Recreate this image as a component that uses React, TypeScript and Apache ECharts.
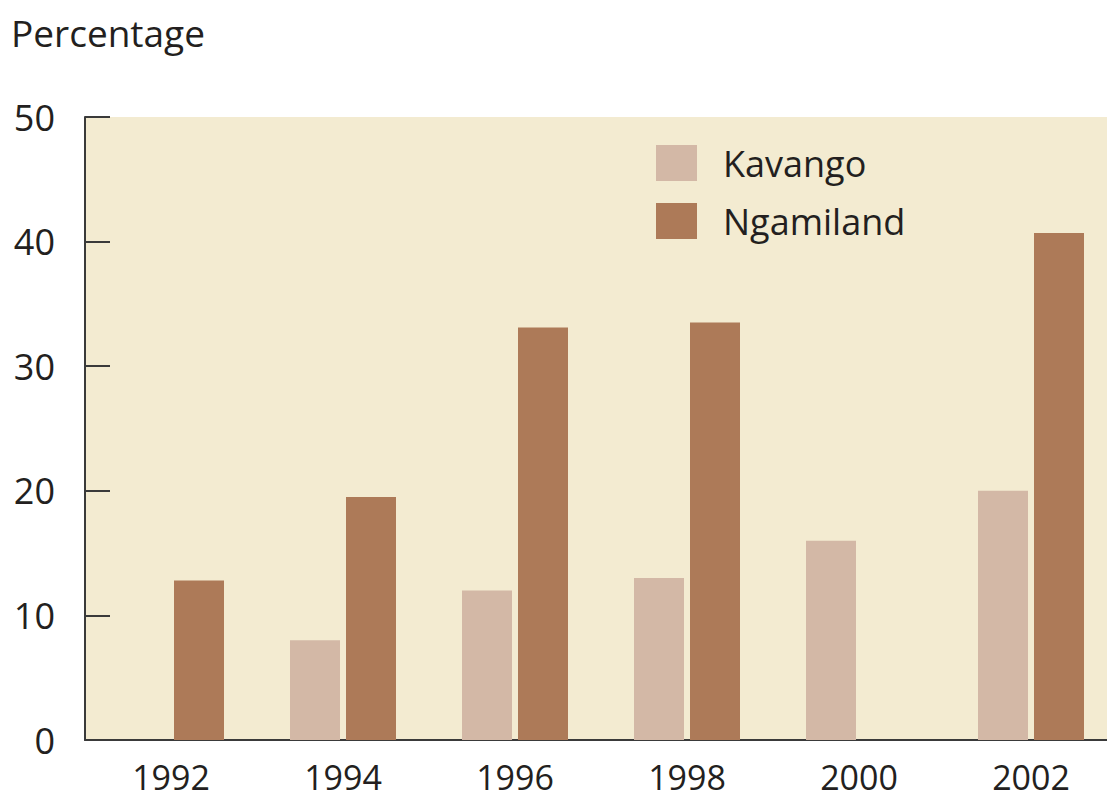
import React, { useEffect, useRef } from "react";
import * as echarts from "echarts";

const years = ["1992", "1994", "1996", "1998", "2000", "2002"];
const kavango: (number | null)[] = [null, 8, 12, 13, 16, 20];
const ngamiland: (number | null)[] = [12.8, 19.5, 33.1, 33.5, null, 40.7];
const yTicks = [0, 10, 20, 30, 40, 50];

const FONT = "'Open Sans', sans-serif";

export default function App() {
  const ref = useRef<HTMLDivElement>(null);
  useEffect(() => {
    if (!ref.current) return;
    const chart = echarts.init(ref.current, null, { renderer: "svg" });
    chart.setOption({
      animation: false,
      backgroundColor: "#ffffff",
      title: {
        text: "Percentage",
        left: 6,
        top: 9,
        textStyle: { fontFamily: FONT, fontSize: 37, fontWeight: "normal", color: "#231f20" },
      },
      legend: {
        orient: "vertical",
        left: 651,
        top: 140,
        itemWidth: 41,
        itemHeight: 36,
        itemGap: 22,
        icon: "rect",
        textStyle: { fontFamily: FONT, fontSize: 36, color: "#231f20", padding: [0, 0, 0, 21] },
        data: ["Kavango", "Ngamiland"],
      },
      grid: {
        left: 85,
        right: 0,
        top: 117,
        bottom: 61,
        show: true,
        backgroundColor: "#f3ebd1",
        borderWidth: 0,
      },
      xAxis: {
        type: "category",
        data: years,
        axisLine: { lineStyle: { color: "#3a3a3a", width: 2 } },
        axisTick: { inside: true, length: 16, lineStyle: { color: "#3a3a3a", width: 2 } },
        axisLabel: { fontFamily: FONT, fontSize: 34, lineHeight: 34, color: "#231f20", margin: 20 },
      },
      yAxis: {
        type: "value",
        min: yTicks[0],
        max: yTicks[yTicks.length - 1],
        interval: 10,
        axisLine: { show: true, lineStyle: { color: "#3a3a3a", width: 2 } },
        axisTick: { show: true, inside: true, length: 25, lineStyle: { color: "#3a3a3a", width: 2 } },
        axisLabel: { fontFamily: FONT, fontSize: 36, color: "#231f20", margin: 30, padding: [0, 0, 10, 0] },
        splitLine: { show: false },
      },
      series: [
        {
          name: "Kavango",
          type: "bar",
          data: kavango,
          barWidth: 50,
          barGap: "12%",
          itemStyle: { color: "#d3b8a6" },
        },
        {
          name: "Ngamiland",
          type: "bar",
          data: ngamiland,
          barWidth: 50,
          barGap: "12%",
          itemStyle: { color: "#ad7a58" },
        },
      ],
    });
    return () => chart.dispose();
  }, []);
  return (
    <div style={{ position: "absolute", left: 0, top: 0, width: 1107, height: 801, overflow: "hidden" }}>
      <div ref={ref} style={{ width: 1117, height: 801 }} />
    </div>
  );
}
